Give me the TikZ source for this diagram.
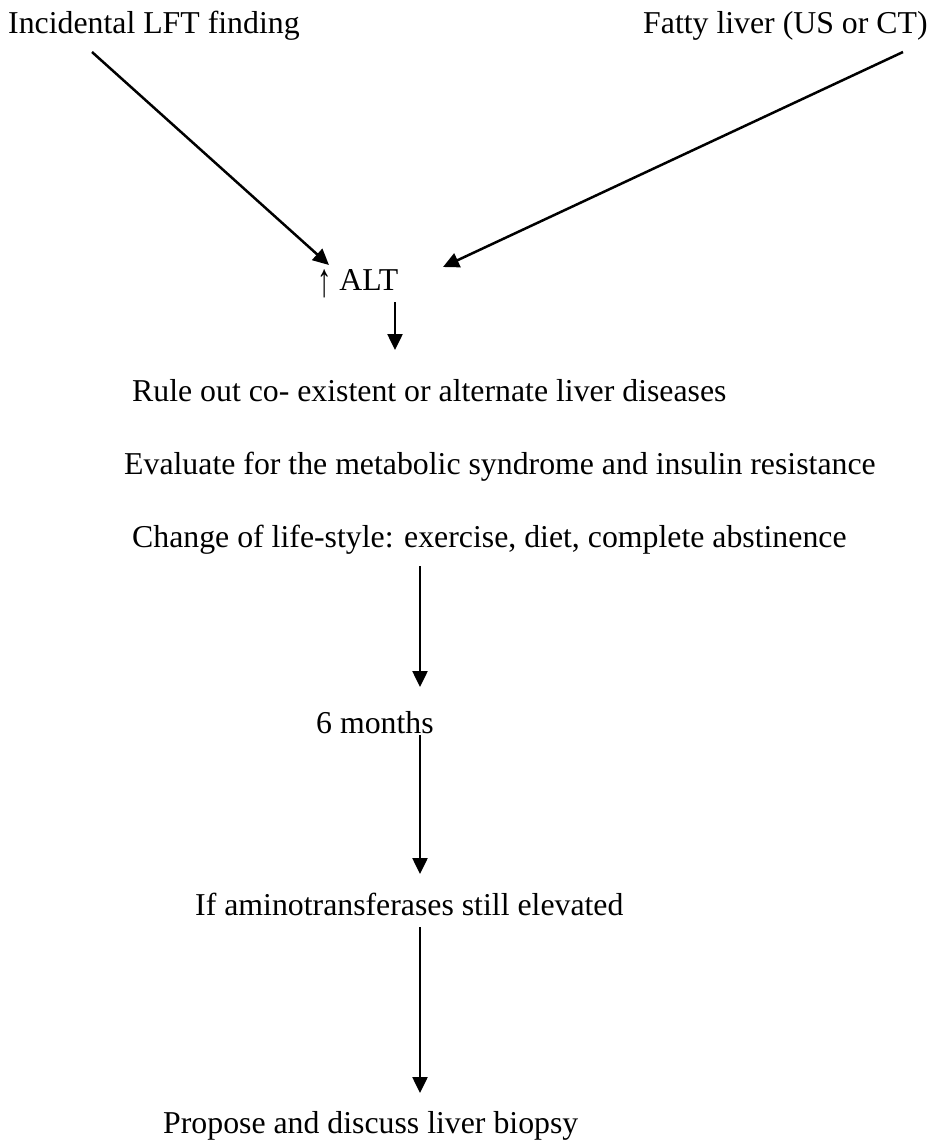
\documentclass[tikz,border=0pt]{standalone}
\usepackage{fontspec}
\setmainfont{Liberation Serif}
\usetikzlibrary{arrows.meta}
\tikzset{
  lbl/.style={anchor=base west, inner sep=0pt, font=\fontsize{31.8}{38}\selectfont},
  arr/.style={line width=2.5pt, -{Triangle[length=16pt,width=15pt]}}
}
\begin{document}
\begin{tikzpicture}[x=1pt,y=-1pt]
\useasboundingbox (0,0) rectangle (935,1144);
\node[lbl] (lft) at (8,33) {Incidental LFT finding};
\node[lbl] (fat) at (643,33) {Fatty liver (US or CT)};
\node[lbl] (alt) at (317,290) {\raisebox{-6pt}{\scalebox{0.9}[1.5]{↑}} ALT};
\node[lbl] (rule) at (132,401) {Rule out co- existent or alternate liver diseases};
\node[lbl] (eval) at (124,474) {Evaluate for the metabolic syndrome and insulin resistance};
\node[lbl] (chg) at (132,547) {Change of life-style: exercise, diet, complete abstinence};
\node[lbl] (six) at (316,733) {6 months};
\node[lbl] (ifa) at (195,915) {If aminotransferases still elevated};
\node[lbl] (prop) at (163,1133) {Propose and discuss liver biopsy};
% connector end points
\coordinate (a1s) at (92,52);   \coordinate (a1e) at (329,265);
\coordinate (a2s) at (903,52);  \coordinate (a2e) at (443,267);
\coordinate (a3s) at (395,302); \coordinate (a3e) at (395,350);
\coordinate (a4s) at (420,566); \coordinate (a4e) at (420,687);
\coordinate (a5s) at (420,735); \coordinate (a5e) at (420,874);
\coordinate (a6s) at (420,927); \coordinate (a6e) at (420,1093);
\draw[arr] (a1s) -- (a1e);
\draw[arr] (a2s) -- (a2e);
\draw[arr] (a3s) -- (a3e);
\draw[arr] (a4s) -- (a4e);
\draw[arr] (a5s) -- (a5e);
\draw[arr] (a6s) -- (a6e);
\end{tikzpicture}
\end{document}
